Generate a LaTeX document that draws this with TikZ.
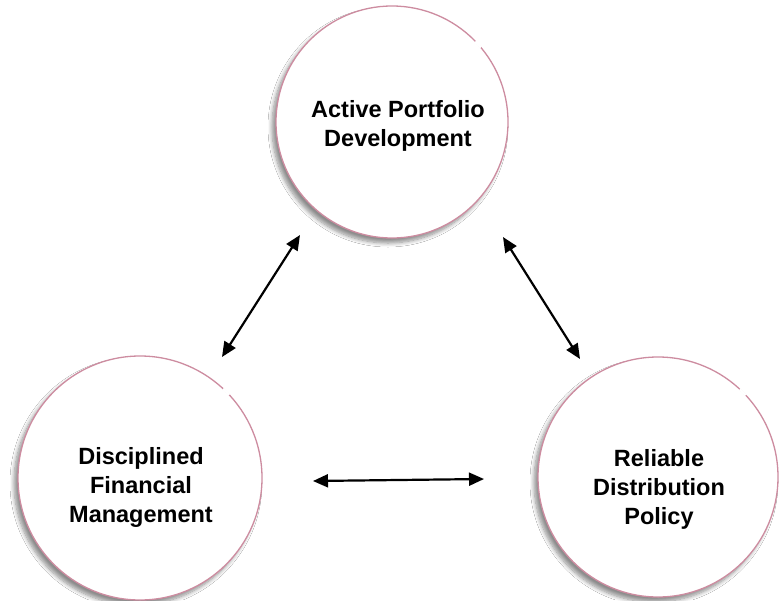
\documentclass[tikz,border=0pt]{standalone}
\usepackage{fontspec}
\setmainfont{Liberation Sans}
\usetikzlibrary{arrows.meta,shadows.blur}
\definecolor{ringpink}{RGB}{205,140,160}
\tikzset{
  ring/.style={circle, draw=ringpink, line width=1.3pt, fill=white, inner sep=0pt,
    blur shadow={shadow xshift=-4pt, shadow yshift=-5pt, shadow opacity=45, shadow blur steps=8, shadow blur radius=4pt}},
  label/.style={align=center, font=\fontsize{23.5}{29}\selectfont\bfseries, inner sep=0pt},
  link/.style={line width=2.2pt, {Triangle[length=15pt,width=13pt]}-{Triangle[length=15pt,width=13pt]}},
  gapmark/.style={draw=white, line width=2.5pt}
}
\begin{document}
\begin{tikzpicture}[x=1pt,y=-1pt]
\useasboundingbox (0,0) rectangle (779,600);
\fill[white] (0,0) rectangle (779,600);
\node[ring, minimum size=232pt] (top) at (392,122) {};
\node[ring, minimum size=244pt] (left) at (140,478) {};
\node[ring, minimum size=240pt] (right) at (658,477) {};
% highlight gaps in outlines
\draw[gapmark] ([shift={(392,122)}]40:116pt) arc[start angle=40, end angle=44, radius=116pt];
\draw[gapmark] ([shift={(140,478)}]43:122pt) arc[start angle=43, end angle=47, radius=122pt];
\draw[gapmark] ([shift={(658,477)}]43:120pt) arc[start angle=43, end angle=47, radius=120pt];
\node[label] (ttop) at (398,126) {Active Portfolio\\Development};
\node[label] (tleft) at (141,487) {Disciplined\\Financial\\Management};
\node[label] (tright) at (659,489) {Reliable\\Distribution\\Policy};
\coordinate (a1) at (222,357);
\coordinate (a2) at (300,235);
\coordinate (b1) at (503,237);
\coordinate (b2) at (580,359);
\coordinate (c1) at (313,481);
\coordinate (c2) at (484,479);
\draw[link] (a1) -- (a2);
\draw[link] (b1) -- (b2);
\draw[link] (c1) -- (c2);
\end{tikzpicture}
\end{document}
